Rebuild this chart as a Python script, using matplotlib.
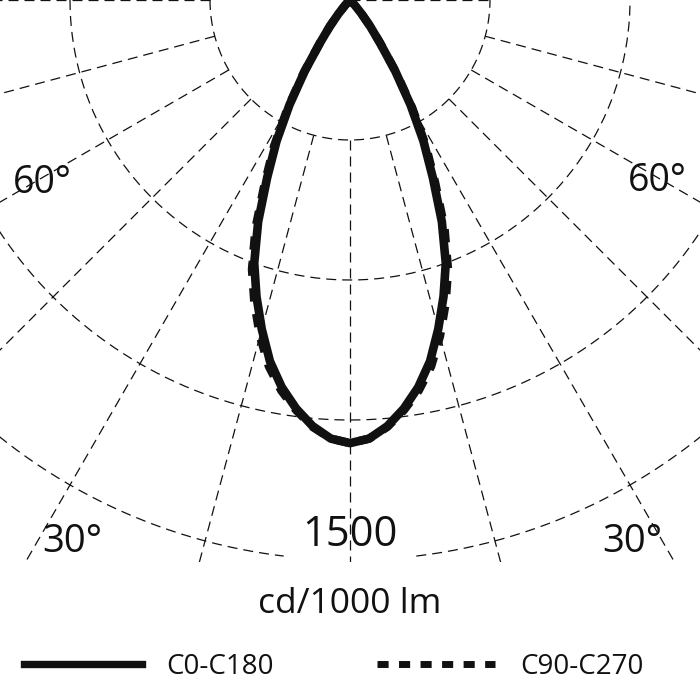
import numpy as np
import matplotlib
matplotlib.use("Agg")
import matplotlib.pyplot as plt
from matplotlib.patches import Rectangle
from matplotlib.lines import Line2D

plt.rcParams['font.family'] = ['Open Sans', 'DejaVu Sans']

# ---- data -------------------------------------------------------------
gamma = [0, 2.5, 5, 7.5, 10, 12.5, 15, 17.5, 20, 22.5, 25, 27.5, 30, 32.5,
         35, 37.5, 40, 42.5, 45, 47.5, 50, 52.5, 55, 57.5, 60, 62.5, 65,
         67.5, 70, 72.5, 75, 77.5, 80, 82.5, 85, 87.5, 90]
c0_c180 = [1187, 1176, 1146, 1104, 1053, 991, 913, 833, 750, 643, 525, 426,
           324, 225, 139, 88, 48, 21, 8, 0, 0, 0, 0, 0, 0, 0, 0, 0, 0, 0, 0,
           0, 0, 0, 0, 0, 0]
c90_c270 = [1187, 1176, 1148, 1108, 1062, 1005, 932, 852, 768, 662, 540, 440,
            333, 230, 141, 88, 48, 21, 8, 0, 0, 0, 0, 0, 0, 0, 0, 0, 0, 0, 0,
            0, 0, 0, 0, 0, 0]
series_names = ['C0-C180', 'C90-C270']
ring_values = [375, 750, 1125, 1500]
radial_angles = list(range(-90, 91, 15))
ring_label = '1500'
unit_label = 'cd/1000 lm'
angle_label_60 = '60°'
angle_label_30 = '30°'

# ---- layout helpers ---------------------------------------------------
S = 1500 / 560.0          # cd per pixel


def px(xp, yp):
    return (xp - 350) * S, -yp * S


INK = '#111111'
fig = plt.figure(figsize=(7, 7), dpi=100)
ax = fig.add_axes([0, 0, 1, 1])
ax.set_xlim(-350 * S, 350 * S)
ax.set_ylim(-700 * S, 0)
ax.set_aspect('equal')
ax.axis('off')

clip = Rectangle((-350 * S, -562 * S), 700 * S, 562 * S,
                 transform=ax.transData, facecolor='none', edgecolor='none')
ax.add_patch(clip)

grid_kw = dict(color=INK, lw=0.9, linestyle=(0, (8, 4.8)), zorder=1)

# rings
gap = 6.8
for rv in ring_values:
    if rv == ring_values[-1]:
        segs = [np.linspace(-90, -gap, 200), np.linspace(gap, 90, 200)]
    else:
        segs = [np.linspace(-90, 90, 400)]
    for seg in segs:
        t = np.radians(seg)
        ln, = ax.plot(rv * np.sin(t), -rv * np.cos(t), **grid_kw)
        ln.set_clip_path(clip)

# radial lines
r_in = ring_values[0]
r_out = 4000
for a in radial_angles:
    t = np.radians(a)
    if a == 90:
        r0, r1 = 0, r_in
    else:
        r0, r1 = r_in, r_out
    ln, = ax.plot([r0 * np.sin(t), r1 * np.sin(t)],
                  [-r0 * np.cos(t), -r1 * np.cos(t)], **grid_kw)
    ln.set_clip_path(clip)

# curves
g = np.array(gamma)
ang = np.radians(np.concatenate([-g[::-1], g[1:]]))


def full(v):
    v = np.array(v, dtype=float)
    return np.concatenate([v[::-1], v[1:]])


i2 = full(c90_c270)
ax.plot(i2 * np.sin(ang), -i2 * np.cos(ang), color=INK, lw=6.0,
        linestyle=(0, (1.6, 1.5)), dash_capstyle='butt', zorder=3)
i1 = full(c0_c180)
ax.plot(i1 * np.sin(ang), -i1 * np.cos(ang), color=INK, lw=6.2,
        solid_joinstyle='round', solid_capstyle='round', zorder=4)

# labels
tk = dict(color=INK, ha='center', va='baseline', zorder=5)
ax.text(*px(42.5, 193), angle_label_60, fontsize=27, **tk)
ax.text(*px(657.5, 191), angle_label_60, fontsize=27, **tk)
ax.text(*px(72, 552), angle_label_30, fontsize=27.5, **tk)
ax.text(*px(632, 552), angle_label_30, fontsize=27.5, **tk)
ax.text(*px(350, 546), ring_label, fontsize=30, **tk)
ax.text(*px(350, 613), unit_label, fontsize=25.5, **tk)

# legend
handles = [Line2D([], [], color=INK, lw=5.3),
           Line2D([], [], color=INK, lw=5.0, linestyle=(0, (1.6, 1.5)),
                  dash_capstyle='butt')]
fig.legend(handles, series_names, loc='center',
           bbox_to_anchor=(0.4764, 1 - 667 / 700), ncol=2, frameon=False,
           fontsize=20, handlelength=4.25, handletextpad=0.9,
           columnspacing=3.7, labelcolor=INK)

fig.savefig('out.png', dpi=100)
